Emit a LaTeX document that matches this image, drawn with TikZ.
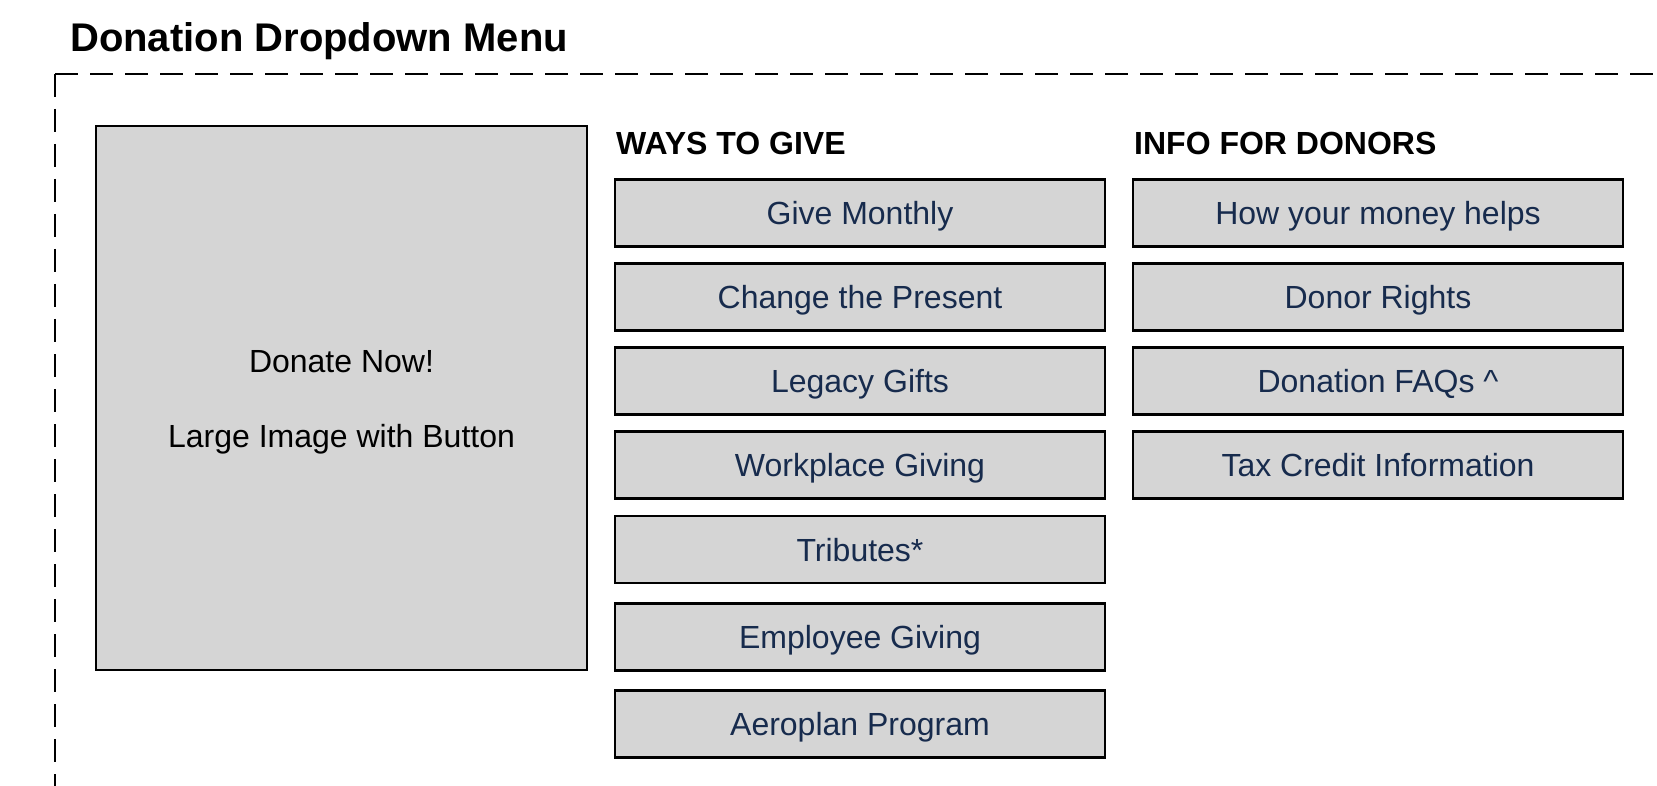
\documentclass[tikz,border=0pt]{standalone}
\usepackage{fontspec}
\setmainfont{Liberation Sans}
\definecolor{navy}{RGB}{23,43,77}
\definecolor{boxgray}{RGB}{213,213,213}
\tikzset{
  btn/.style={draw=black, line width=2.4pt, fill=boxgray, minimum width=490pt, minimum height=67pt,
    inner sep=0pt, text height=23pt, text depth=0pt, text=navy, font=\fontsize{32}{38}\selectfont},
  header/.style={anchor=base west, inner sep=0pt, font=\fontsize{32}{38}\selectfont\bfseries},
  frame/.style={line width=2.5pt, dash pattern=on 23pt off 12pt},
  imgbox/.style={draw=black, line width=2.4pt, fill=boxgray, minimum width=491pt, minimum height=544pt, inner sep=0pt},
  plain/.style={anchor=base, inner sep=0pt, font=\fontsize{32}{38}\selectfont}
}
\begin{document}
\begin{tikzpicture}[x=1pt,y=-1pt]
\useasboundingbox (0,0) rectangle (1657,786);
\clip (0,0) rectangle (1657,786);
% title
\node[anchor=base west, inner sep=0pt, font=\fontsize{40}{48}\selectfont\bfseries] (title) at (70,52) {Donation Dropdown Menu};
% dashed frame
\coordinate (corner) at (55,74);
\coordinate (ne) at (1720,74);
\coordinate (sw) at (55,820);
\draw[frame] (corner) -- (ne);
\draw[frame] (corner) -- (sw);
% large image box
\node[imgbox] (img) at (341.5,398) {};
\node[plain] (donate) at (341.5,372.5) {Donate Now!};
\node[plain] (large) at (341.5,447.5) {Large Image with Button};
% headers
\node[header] (ways) at (616,155) {WAYS TO GIVE};
\node[header] (info) at (1134,155) {INFO FOR DONORS};
% ways to give buttons
\node[btn] (b1) at (860,213) {Give Monthly};
\node[btn] (b2) at (860,297) {Change the Present};
\node[btn] (b3) at (860,381) {Legacy Gifts};
\node[btn] (b4) at (860,465) {Workplace Giving};
\node[btn] (b5) at (860,549.5) {Tributes*};
\node[btn] (b6) at (860,637) {Employee Giving};
\node[btn] (b7) at (860,724) {Aeroplan Program};
% info for donors buttons
\node[btn] (c1) at (1378,213) {How your money helps};
\node[btn] (c2) at (1378,297) {Donor Rights};
\node[btn] (c3) at (1378,381) {Donation FAQs \^{}};
\node[btn] (c4) at (1378,465) {Tax Credit Information};
\end{tikzpicture}
\end{document}
